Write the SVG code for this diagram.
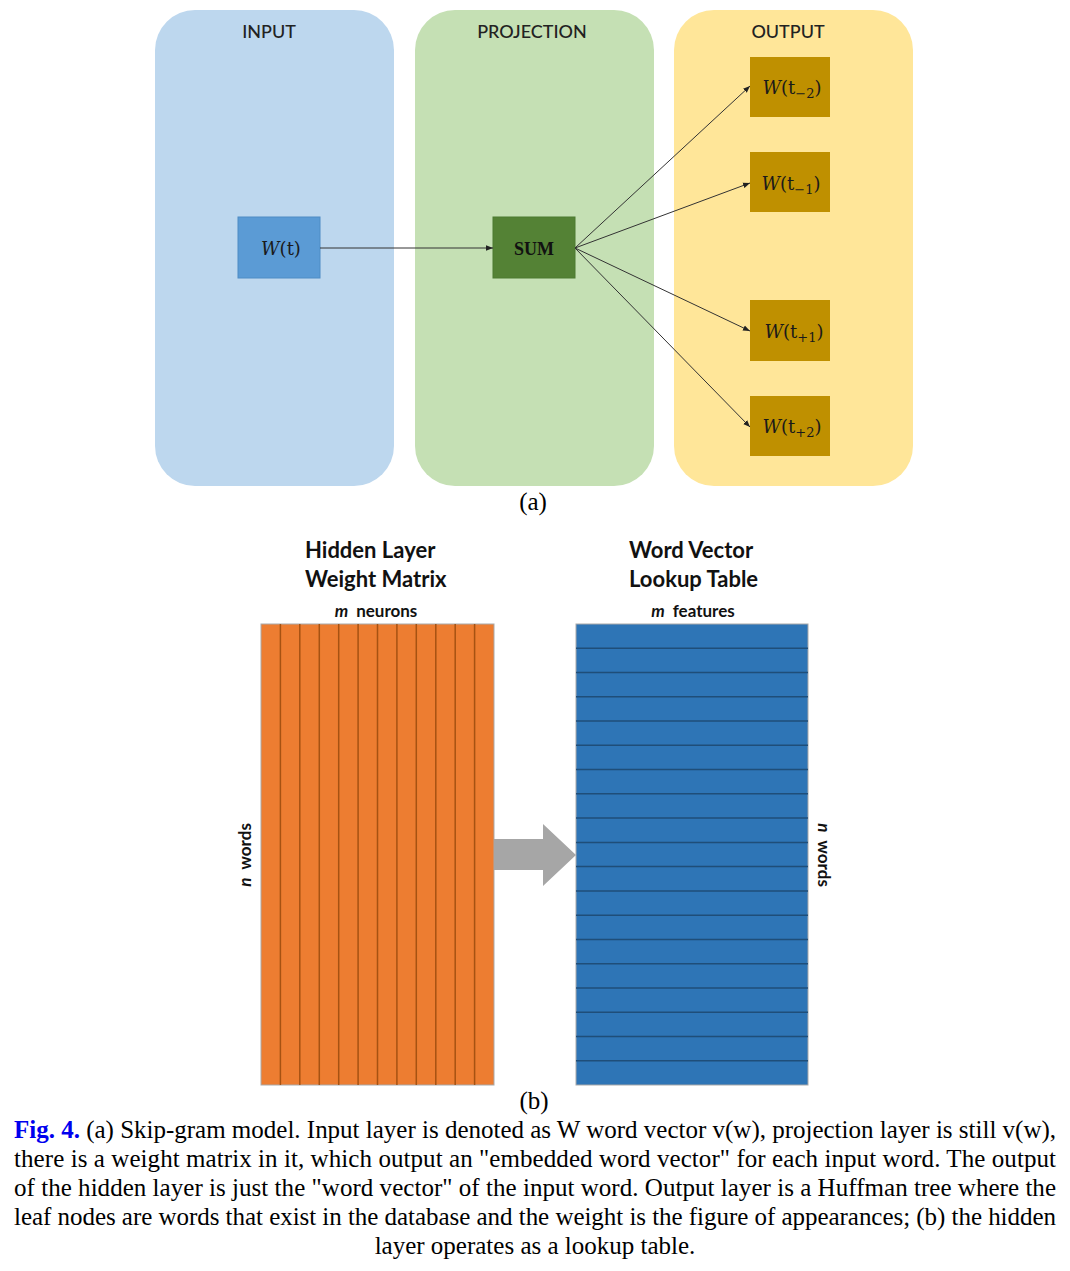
<svg xmlns="http://www.w3.org/2000/svg" width="1070" height="1271" viewBox="0 0 1070 1271">
<style>
.hdr{font-family:Lato,"Open Sans","Liberation Sans",sans-serif;font-size:18px;font-weight:500;fill:#222;text-anchor:middle}
.math{font-family:"DejaVu Serif","Liberation Serif",serif;font-size:18px;fill:#1a1a1a;text-anchor:middle}
.it{font-style:italic}
.sub{font-size:13px}
.title{font-family:Lato,"Open Sans","Liberation Sans",sans-serif;font-size:22px;font-weight:bold;fill:#111}
.small{font-family:Lato,"Open Sans","Liberation Sans",sans-serif;font-size:17px;font-weight:bold;fill:#111}
.cap{font-family:"Liberation Serif","Times New Roman",serif;font-size:25px;fill:#000}
.conn{stroke:#333;stroke-width:1;fill:none;marker-end:url(#ah)}
</style>
<defs>
<marker id="ah" viewBox="0 0 10 10" refX="10" refY="5" markerWidth="7" markerHeight="7" orient="auto" markerUnits="userSpaceOnUse">
<path d="M0,1 L10,5 L0,9 z" fill="#222"/>
</marker>
</defs>
<rect width="1070" height="1271" fill="#fff"/>

<g id="panel-input">
<rect x="155" y="10" width="239" height="476" rx="40" fill="#BDD7EE"/>
<text class="hdr" x="269" y="38">INPUT</text>
</g>
<g id="panel-projection">
<rect x="415" y="10" width="239" height="476" rx="40" fill="#C5E0B4"/>
<text class="hdr" x="532" y="38">PROJECTION</text>
</g>
<g id="panel-output">
<rect x="674" y="10" width="239" height="476" rx="40" fill="#FFE699"/>
<text class="hdr" x="788" y="38">OUTPUT</text>
</g>

<g id="node-wt">
<rect x="238" y="217" width="82" height="61" fill="#5B9BD5" stroke="#4F8CC4" stroke-width="1"/>
<text class="math" x="281" y="255"><tspan class="it">W</tspan>(t)</text>
</g>
<g id="node-sum">
<rect x="493" y="217" width="82" height="61" fill="#548235" stroke="#4C7A30" stroke-width="1"/>
<text x="534" y="255" font-family="'Liberation Serif',serif" font-size="18" font-weight="bold" fill="#111" text-anchor="middle">SUM</text>
</g>
<g id="node-wtm2">
<rect x="750" y="57" width="80" height="60" fill="#BF9000"/>
<text class="math" x="792" y="94"><tspan class="it">W</tspan>(t<tspan class="sub" dy="4">−2</tspan><tspan dy="-4">)</tspan></text>
</g>
<g id="node-wtm1">
<rect x="750" y="152" width="80" height="60" fill="#BF9000"/>
<text class="math" x="791" y="190"><tspan class="it">W</tspan>(t<tspan class="sub" dy="4">−1</tspan><tspan dy="-4">)</tspan></text>
</g>
<g id="node-wtp1">
<rect x="750" y="300" width="80" height="61" fill="#BF9000"/>
<text class="math" x="794" y="338"><tspan class="it">W</tspan>(t<tspan class="sub" dy="4">+1</tspan><tspan dy="-4">)</tspan></text>
</g>
<g id="node-wtp2">
<rect x="750" y="396" width="80" height="60" fill="#BF9000"/>
<text class="math" x="792" y="433"><tspan class="it">W</tspan>(t<tspan class="sub" dy="4">+2</tspan><tspan dy="-4">)</tspan></text>
</g>

<g id="connectors">
<line class="conn" x1="320" y1="248" x2="493" y2="248"/>
<line class="conn" x1="575" y1="248" x2="750" y2="86"/>
<line class="conn" x1="575" y1="248" x2="750" y2="183"/>
<line class="conn" x1="575" y1="248" x2="750" y2="331"/>
<line class="conn" x1="575" y1="248" x2="750" y2="427"/>
</g>

<text class="cap" x="533" y="510" text-anchor="middle">(a)</text>

<g id="weight-matrix">
<text class="title" x="305" y="558">Hidden Layer</text>
<text class="title" x="305" y="587">Weight Matrix</text>
<text class="small" x="376" y="617" text-anchor="middle"><tspan font-style="italic">m</tspan><tspan dx="8">neurons</tspan></text>
<rect x="261" y="624" width="233" height="461" fill="#ED7D31" stroke="#A9A9A9" stroke-width="1"/>
<path d="M280.4,624V1085M299.8,624V1085M319.3,624V1085M338.7,624V1085M358.1,624V1085M377.5,624V1085M396.9,624V1085M416.3,624V1085M435.8,624V1085M455.2,624V1085M474.6,624V1085" stroke="#A65212" stroke-width="1.5" fill="none"/>
<text class="small" transform="translate(251,855) rotate(-90)" text-anchor="middle"><tspan font-style="italic">n</tspan><tspan dx="8">words</tspan></text>
</g>

<g id="lookup-table">
<text class="title" x="629" y="558">Word Vector</text>
<text class="title" x="629" y="587">Lookup Table</text>
<text class="small" x="693" y="617" text-anchor="middle"><tspan font-style="italic">m</tspan><tspan dx="8">features</tspan></text>
<rect x="576" y="624" width="232" height="461" fill="#2E75B6" stroke="#A9A9A9" stroke-width="1"/>
<path d="M576,648.3H808M576,672.5H808M576,696.8H808M576,721.1H808M576,745.3H808M576,769.6H808M576,793.8H808M576,818.1H808M576,842.4H808M576,866.6H808M576,890.9H808M576,915.2H808M576,939.4H808M576,963.7H808M576,987.9H808M576,1012.2H808M576,1036.5H808M576,1060.7H808" stroke="#1F4E79" stroke-width="1.5" fill="none"/>
<text class="small" transform="translate(818,855) rotate(90)" text-anchor="middle"><tspan font-style="italic">n</tspan><tspan dx="8">words</tspan></text>
</g>

<g id="big-arrow">
<path d="M494,839H543V824L576,855L543,886V870H494Z" fill="#A6A6A6"/>
</g>

<text class="cap" x="534" y="1109" text-anchor="middle">(b)</text>

<g id="caption">
<text class="cap" x="14" y="1138" textLength="1042" lengthAdjust="spacing"><tspan fill="#0000EE" font-weight="bold">Fig. 4.</tspan> (a) Skip-gram model. Input layer is denoted as W word vector v(w), projection layer is still v(w),</text>
<text class="cap" x="14" y="1167" textLength="1042" lengthAdjust="spacing">there is a weight matrix in it, which output an "embedded word vector" for each input word. The output</text>
<text class="cap" x="14" y="1196" textLength="1042" lengthAdjust="spacing">of the hidden layer is just the "word vector" of the input word. Output layer is a Huffman tree where the</text>
<text class="cap" x="14" y="1225" textLength="1042" lengthAdjust="spacing">leaf nodes are words that exist in the database and the weight is the figure of appearances; (b) the hidden</text>
<text class="cap" x="535" y="1254" text-anchor="middle">layer operates as a lookup table.</text>
</g>
</svg>
